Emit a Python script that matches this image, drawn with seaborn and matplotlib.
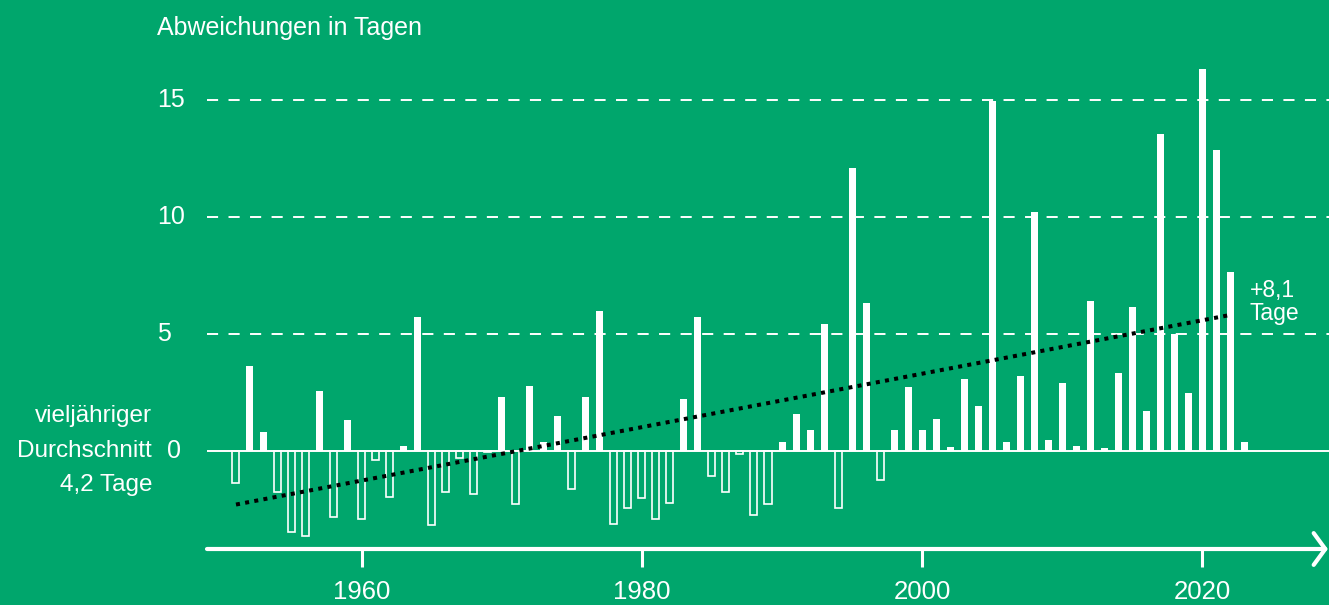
import matplotlib
matplotlib.use("Agg")
import matplotlib.pyplot as plt
import seaborn as sns
import pandas as pd

# deviations in days from the long-term mean (4.2 days), 1951-2023
years = list(range(1951, 2024))
values = [
    -1.37, 3.62, 0.80, -1.77, -3.49, -3.65, 2.55, -2.85, 1.31, -2.93,
    -0.38, -1.99, 0.20, 5.71, -3.16, -1.77, -0.29, -1.87, -0.05, 2.29,
    -2.29, 2.76, 0.37, 1.48, -1.62, 2.29, 5.97, -3.15, -2.43, -2.04,
    -2.93, -2.22, 2.21, 5.71, -1.07, -1.78, -0.16, -2.76, -2.29, 0.37,
    1.57, 0.88, 5.42, -2.46, 12.08, 6.31, -1.27, 0.87, 2.72, 0.87,
    1.35, 0.15, 3.06, 1.91, 14.94, 0.37, 3.19, 10.19, 0.46, 2.89,
    0.20, 6.40, 0.10, 3.32, 6.14, 1.70, 13.53, 4.99, 2.47, 16.30,
    12.84, 7.64, 0.37,
]
trend_years = [1951, 2022]
trend_values = [-2.3, 5.8]
xtick_years = [1960, 1980, 2000, 2020]
ytick_values = [0, 5, 10, 15]

title = "Abweichungen in Tagen"
mean_label = "vieljähriger\nDurchschnitt\n4,2 Tage"
trend_label = "+8,1\nTage"

GREEN = "#00a66c"

sns.set_theme(style="white")
plt.rcParams["font.family"] = ["Liberation Sans", "DejaVu Sans"]
plt.rcParams["lines.scale_dashes"] = False

df = pd.DataFrame({"year": years, "value": values})
pos = df[df["value"] >= 0]
neg = df[df["value"] < 0]

fig = plt.figure(figsize=(13.29, 6.05), dpi=100, facecolor=GREEN)
ax = fig.add_axes([207 / 1329, 0.09256, 1122 / 1329, 0.8393])
ax.set_facecolor(GREEN)

# grid lines
for v in ytick_values[1:]:
    ax.axhline(v, color="white", lw=1.4, dashes=(8, 7.5), zorder=1)
ax.axhline(0, color="white", lw=1.4, zorder=1)

sns.barplot(x=pos["year"], y=pos["value"], native_scale=True, color="white",
            saturation=1, width=0.5, linewidth=0, errorbar=None, ax=ax, zorder=3)
sns.barplot(x=neg["year"], y=neg["value"], native_scale=True, color="white",
            fill=False, width=0.5, linewidth=1.2, errorbar=None, ax=ax, zorder=3)

sns.lineplot(x=trend_years, y=trend_values, color="black", lw=2.9,
             linestyle=(0, (2.9, 3.8)), ax=ax, zorder=4)

ax.set_xlim(1948.93, 2029.07)
ax.set_ylim(-4.2, 17.5)
ax.set_xlabel("")
ax.set_ylabel("")

for s in ["top", "right", "left", "bottom"]:
    ax.spines[s].set_visible(False)

# x axis with arrow
ax.annotate("", xy=(0.999, 0), xytext=(0, 0), xycoords="axes fraction",
            arrowprops=dict(arrowstyle="->,head_length=0.38,head_width=0.52",
                            lw=3, color="white", mutation_scale=22,
                            shrinkA=0, shrinkB=0),
            annotation_clip=False)
ax.set_xticks(xtick_years)
ax.set_xticklabels([str(y) for y in xtick_years])
ax.tick_params(axis="x", bottom=True, length=13, width=2.2, color="white",
               labelcolor="white", labelsize=18.5, pad=9)
ax.set_yticks([])

# y labels
ytrans = ax.get_yaxis_transform()
for v in ytick_values:
    xpos = -0.0357 if v == 0 else -0.0446
    ax.text(xpos, v, str(v), transform=ytrans, ha="left", va="center",
            color="white", fontsize=18)

ax.text(-0.049, 0, mean_label, transform=ytrans, ha="right", va="center",
        multialignment="right", color="white", fontsize=17.5, linespacing=1.72)

ax.text(2023.4, 6.35, trend_label, ha="left", va="center", color="white",
        fontsize=16.5, linespacing=1.0)

fig.text(157 / 1329, 1 - 34.5 / 605, title, ha="left", va="baseline",
         color="white", fontsize=18)

fig.savefig("out.png", dpi=100, facecolor=GREEN)
